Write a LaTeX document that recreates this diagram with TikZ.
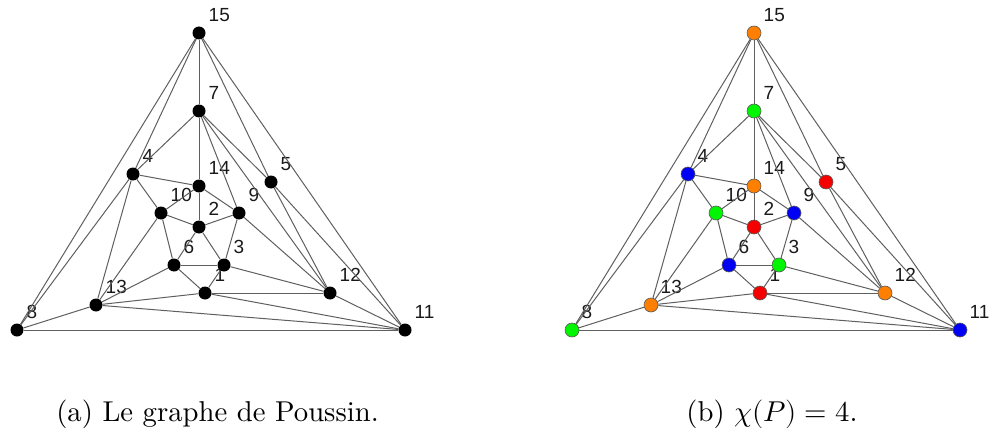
\documentclass[tikz,border=0pt]{standalone}
\usepackage{fontspec}
\usepackage{unicode-math}
\setmainfont{lmroman10-regular.otf}
\newfontfamily\lblfont{Liberation Sans}
\definecolor{vorange}{RGB}{255,128,0}
\definecolor{vgreen}{RGB}{0,245,0}
\definecolor{vblue}{RGB}{0,0,245}
\definecolor{vred}{RGB}{245,0,0}
\definecolor{edgegray}{RGB}{95,95,95}
\begin{document}
\begin{tikzpicture}[x=1pt,y=-1pt,
  edge/.style={draw=edgegray, line width=1pt},
  bv/.style={circle, fill=black, inner sep=0pt, minimum size=13pt},
  cv/.style={circle, fill=#1, draw=black!65, line width=0.6pt, inner sep=0pt, minimum size=14pt},
  lbl/.style={anchor=west, inner sep=0pt, font=\lblfont\fontsize{19}{19}\selectfont, text=black!90},
  captext/.style={anchor=base, inner sep=0pt, font=\fontsize{28.7}{34}\selectfont}]
\useasboundingbox (0,0) rectangle (990,433);
\def\vlist{1/205/293/vred, 2/199/227/vred, 3/224/265/vgreen, 4/133/174/vblue,
  5/271/182/vred, 6/174/265/vblue, 7/199/111/vgreen, 8/17/330/vgreen,
  9/239/213/vblue, 10/161/213/vgreen, 11/405/330/vblue, 12/330/293/vorange,
  13/96/305/vorange, 14/199/186/vorange, 15/199/33/vorange}
\foreach \n/\x/\y/\c in \vlist {
  \node[bv] (a\n) at (\x,\y) {};
  \node[lbl] (la\n) at ([shift={(9.5,-18)}]a\n.center) {\n};
  \node[cv=\c] (b\n) at (\x+555,\y) {};
  \node[lbl] (lb\n) at ([shift={(9.5,-18)}]b\n.center) {\n};
}
\foreach \u/\v in {15/7, 15/4, 15/5, 15/11, 15/8, 7/4, 7/14, 7/9, 7/12, 7/5,
  4/14, 4/10, 4/13, 4/8, 14/2, 14/9, 14/10, 10/2, 10/6, 10/13, 2/9, 2/3, 2/6,
  9/3, 9/12, 6/3, 6/1, 6/13, 3/1, 3/12, 1/12, 1/13, 1/11, 5/12, 5/11, 12/11,
  13/11, 13/8, 8/11} {
  \draw[edge] (a\u) -- (a\v);
  \draw[edge] (b\u) -- (b\v);
}
\node[captext] (capa) at (217.5,421) {(a) Le graphe de Poussin.};
\node[captext] (capb) at (772,421) {(b) $\chi(P) = 4$.};
\end{tikzpicture}
\end{document}
